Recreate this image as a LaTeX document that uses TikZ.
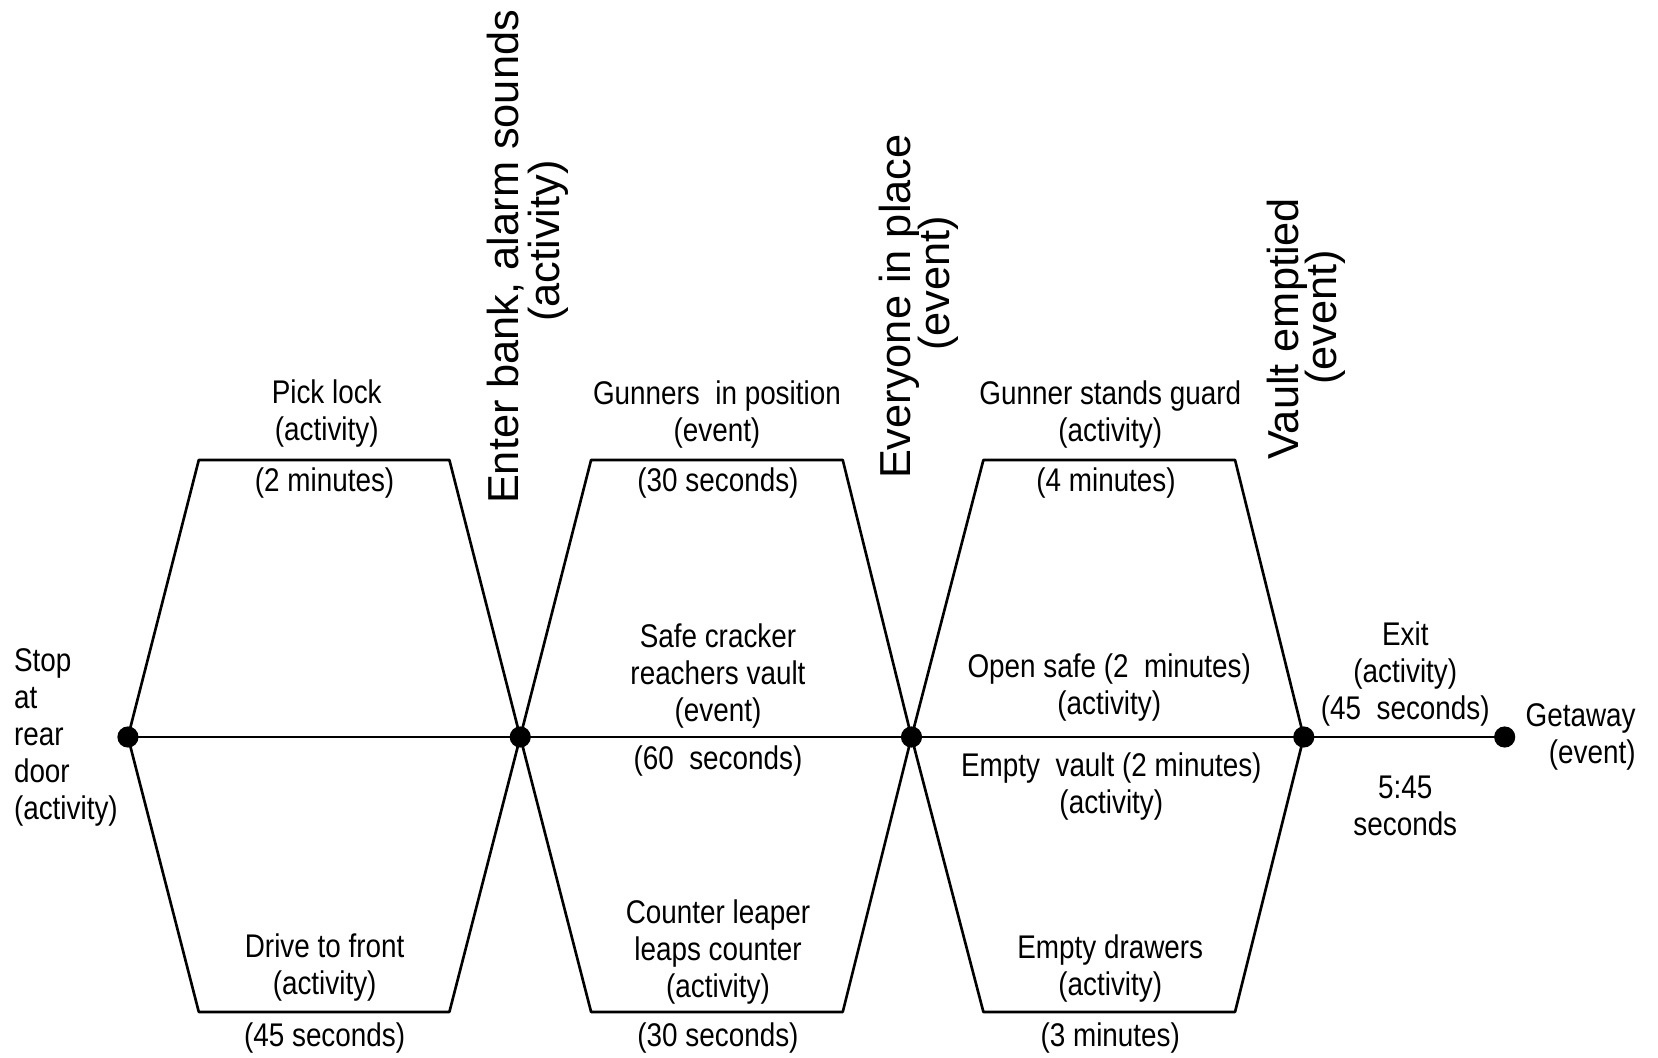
\documentclass[tikz,border=0pt]{standalone}
\usepackage{fontspec}
\setmainfont{Liberation Sans}[FakeStretch=0.85]
\newfontfamily\rotfont{Liberation Sans}
\begin{document}
\begin{tikzpicture}[x=1pt,y=-1pt,line width=2.5pt,line join=round,
  dot/.style={circle,fill=black,inner sep=0pt,minimum size=20pt},
  lbl/.style={align=center,font=\fontsize{31}{35}\selectfont,inner sep=0pt},
  rot/.style={rotate=90,anchor=base,inner sep=0pt,font=\rotfont\fontsize{41}{45}\selectfont}]
\useasboundingbox (0,0) rectangle (1568,1000);
% event dots
\node[dot] (d1) at (121,697) {};
\node[dot] (d2) at (492,697) {};
\node[dot] (d3) at (862,697) {};
\node[dot] (d4) at (1233,697) {};
\node[dot] (d5) at (1423,697) {};
% hexagon corners
\coordinate (a1) at (188,435); \coordinate (a2) at (425,435);
\coordinate (a3) at (425,957); \coordinate (a4) at (188,957);
\coordinate (b1) at (559,435); \coordinate (b2) at (797,435);
\coordinate (b3) at (797,957); \coordinate (b4) at (559,957);
\coordinate (c1) at (930,435); \coordinate (c2) at (1168,435);
\coordinate (c3) at (1168,957); \coordinate (c4) at (930,957);
% connectors
\draw (d1.center) -- (a1) -- (a2) -- (d2.center) -- (a3) -- (a4) -- cycle;
\draw (d2.center) -- (b1) -- (b2) -- (d3.center) -- (b3) -- (b4) -- cycle;
\draw (d3.center) -- (c1) -- (c2) -- (d4.center) -- (c3) -- (c4) -- cycle;
\draw (d1.center) -- (d2.center) -- (d3.center) -- (d4.center) -- (d5.center);
% rotated labels
\node[rot] (enter) at (490,243) {Enter bank, alarm sounds};
\node[rot] (enterb) at (529,228) {(activity)};
\node[rot] (every) at (861,290) {Everyone in place};
\node[rot] (everyb) at (898,268) {(event)};
\node[rot] (vault) at (1228,311) {Vault emptied};
\node[rot] (vaultb) at (1264,300) {(event)};
% horizontal labels
\node[lbl,anchor=west,align=left] (stop) at (12,697.5) {Stop\\at\\rear\\door\\(activity)};
\node[lbl] (pick) at (309,391.5) {Pick lock\\(activity)};
\node[lbl] (pickt) at (307,457) {(2 minutes)};
\node[lbl] (drive) at (307,915) {Drive to front\\(activity)};
\node[lbl] (drivet) at (307,982) {(45 seconds)};
\node[lbl] (gun) at (678,392) {Gunners\ \ in position\\(event)};
\node[lbl] (gunt) at (679,457) {(30 seconds)};
\node[lbl] (safe) at (679,639) {Safe cracker\\reachers vault\\(event)};
\node[lbl] (safet) at (679,720) {(60\ \ seconds)};
\node[lbl] (counter) at (679,900) {Counter leaper\\leaps counter\\(activity)};
\node[lbl] (countert) at (679,982) {(30 seconds)};
\node[lbl] (guard) at (1050,392) {Gunner stands guard\\(activity)};
\node[lbl] (guardt) at (1046,457) {(4 minutes)};
\node[lbl] (open) at (1049,650.5) {Open safe (2\ \ minutes)\\(activity)};
\node[lbl] (empty) at (1051,743.5) {Empty\ \ vault (2 minutes)\\(activity)};
\node[lbl] (drawers) at (1050,915.5) {Empty drawers\\(activity)};
\node[lbl] (drawerst) at (1050,982) {(3 minutes)};
\node[lbl] (exit) at (1329,637) {Exit\\(activity)\\(45\ \ seconds)};
\node[lbl] (total) at (1329,762.5) {5:45\\seconds};
\node[lbl,anchor=east,align=right] (getaway) at (1548,696.5) {Getaway\\(event)};
\end{tikzpicture}
\end{document}
